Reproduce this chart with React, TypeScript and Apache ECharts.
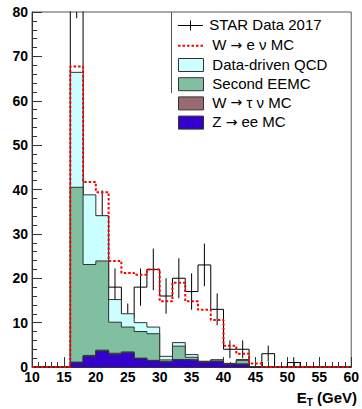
import React, { useEffect, useRef } from 'react';
import * as echarts from 'echarts';

// Left edges of the 2 GeV bins (E_T in GeV), last edge = 60
const binLeft = [10, 12, 14, 16, 18, 20, 22, 24, 26, 28, 30, 32, 34, 36, 38, 40, 42, 44, 46, 48, 50, 52, 54, 56, 58];
const xMax = 60;

// STAR Data 2017 (counts per bin) and their error bars
const starData = [0, 0, 0, 88, 31, 34, 18, 11, 18, 22, 16, 20, 17, 23, 13, 4, 4, 0, 3, 0, 1, 0, 0, 0, 0];
const starErr = [0, 0, 0, 9.4, 5.6, 5.8, 4.2, 3.3, 4.2, 4.7, 4.0, 4.5, 4.1, 4.8, 3.6, 2.0, 2.0, 0, 1.8, 0, 1.2, 0, 0, 0, 0];

// Stacked components (bottom to top)
const zeeMC = [0, 0, 0, 1.0, 2.4, 3.6, 2.9, 3.2, 1.9, 1.4, 1.1, 1.6, 1.5, 1.0, 1.2, 0.6, 0.6, 0, 0, 0, 0, 0, 0, 0, 0];
const wtauMC = [0, 0, 0, 0.1, 0.2, 0.2, 0.2, 0.2, 0.1, 0.1, 0.1, 0.1, 0.1, 0.1, 0.1, 0.1, 0.1, 0, 0, 0, 0, 0, 0, 0, 0];
const secondEEMC = [0, 0, 0, 39.4, 20.5, 20.1, 7.0, 5.6, 6.0, 6.0, 0.4, 3.0, 0.6, 0.1, 0.3, 0.1, 0.8, 0, 0, 0, 0, 0, 0, 0, 0];
const dataDrivenQCD = [0, 0, 0, 25.9, 15.7, 10.2, 5.1, 3.0, 2.0, 1.5, 0.8, 0.8, 0.6, 0.1, 0, 0, 0.2, 0, 0, 0, 0, 0, 0, 0, 0];
const wenuMC = [0, 0, 0, 1.3, 2.9, 5.3, 8.7, 9.2, 10.8, 13.0, 12.4, 13.5, 12.0, 11.6, 9.0, 4.0, 1.3, 0.8, 0, 0, 0, 0, 0, 0, 0];

// Legend labels (rich-text markup: {a|...} = arrow glyph)
const legendLabels = [
  'STAR Data 2017',
  'W {a|\u2192} e \u03bd MC',
  'Data-driven QCD',
  'Second EEMC',
  'W {a|\u2192} \u03c4 \u03bd MC',
  'Z {a|\u2192} ee MC',
];

const FONT = '"Liberation Sans", Arial, Helvetica, sans-serif';
const C_QCD = '#ccffff';
const C_EEMC = '#80bf9f';
const C_TAU = '#9a6b72';
const C_ZEE = '#3300cc';
const C_OUT = '#333333';

const addArr = (a: number[], b: number[]) => a.map((v, i) => +(v + b[i]).toFixed(3));
const edges = binLeft.concat([xMax]);
const toSteps = (vals: number[]) => edges.map((e, i) => [e, vals[Math.min(i, vals.length - 1)]]);

export default function App() {
  const ref = useRef<HTMLDivElement>(null);
  useEffect(() => {
    if (!ref.current) return;
    const chart = echarts.init(ref.current, undefined, { renderer: 'svg' });

    const zTop = zeeMC.slice();
    const tauTop = addArr(zTop, wtauMC);
    const eemcTop = addArr(tauTop, secondEEMC);
    const qcdTop = addArr(eemcTop, dataDrivenQCD);
    const totTop = addArr(qcdTop, wenuMC);

    const errData = binLeft
      .map((e, i) => [e + 1, starData[i], starErr[i]])
      .filter((d) => d[1] > 0);

    const fillSeries = (name: string, vals: number[], color: string, z: number) => ({
      name,
      type: 'line',
      step: 'end',
      data: toSteps(vals),
      symbol: 'none',
      z,
      silent: true,
      lineStyle: { color: C_OUT, width: 1 },
      areaStyle: { color, opacity: 1 },
    });

    const rows = [25.5, 45.8, 65, 84.2, 103.4, 122.6];
    const legendGraphics: any[] = [
      { type: 'line', shape: { x1: 171.5, y1: 12, x2: 171.5, y2: 93 }, style: { stroke: '#555', lineWidth: 1 } },
      { type: 'line', shape: { x1: 178, y1: rows[0], x2: 203, y2: rows[0] }, style: { stroke: '#000', lineWidth: 1 } },
      { type: 'line', shape: { x1: 190.5, y1: rows[0] - 5, x2: 190.5, y2: rows[0] + 5 }, style: { stroke: '#000', lineWidth: 1 } },
      { type: 'line', shape: { x1: 178, y1: rows[1], x2: 203, y2: rows[1] }, style: { stroke: '#ff0000', lineWidth: 2, lineDash: [2.5, 2] } },
    ];
    [C_QCD, C_EEMC, C_TAU, C_ZEE].forEach((c, k) => {
      legendGraphics.push({
        type: 'rect',
        shape: { x: 178.5, y: rows[k + 2] - 6.5, width: 25, height: 13 },
        style: { fill: c, stroke: C_OUT, lineWidth: 1 },
      });
    });
    legendLabels.forEach((t, k) => {
      legendGraphics.push({
        type: 'text',
        x: k === 0 ? 209.3 : 212.3,
        y: rows[k] - 1,
        style: {
          text: t,
          fontSize: 15,
          fontFamily: FONT,
          fill: '#000',
          align: 'left',
          verticalAlign: 'middle',
          rich: {
            a: { fontSize: 14, fontFamily: '"DejaVu Sans", sans-serif', fill: '#000' },
          },
        },
      });
    });
    legendGraphics.push({
      type: 'text',
      x: 357,
      y: 397.5,
      style: {
        text: '{e|E}{t|T}{g| (GeV)}',
        align: 'right',
        verticalAlign: 'middle',
        fill: '#000',
        rich: {
          e: { fontSize: 15, fontWeight: 'bold', fontFamily: FONT, fill: '#000' },
          t: { fontSize: 10, lineHeight: 10, fontWeight: 'bold', fontFamily: FONT, fill: '#000', padding: [10, 0, 0, 0] },
          g: { fontSize: 15, fontWeight: 'bold', fontFamily: FONT, fill: '#000' },
        },
      },
    });

    const axisCommon = {
      axisLine: { show: true, lineStyle: { color: C_OUT, width: 1 } },
      axisTick: { show: true, inside: true, length: 10, lineStyle: { color: C_OUT, width: 1 } },
      minorTick: { show: true, splitNumber: 5, length: 5, lineStyle: { color: C_OUT, width: 1 } },
      splitLine: { show: false },
      minorSplitLine: { show: false },
    };

    chart.setOption({
      animation: false,
      backgroundColor: '#ffffff',
      grid: { left: 32, right: 8, top: 12, bottom: 42, show: true, borderColor: '#555', borderWidth: 1, backgroundColor: 'transparent' },
      xAxis: {
        type: 'value',
        min: 10,
        max: 60,
        interval: 5,
        ...axisCommon,
        axisLabel: { fontSize: 14, lineHeight: 10, fontWeight: 'bold', fontFamily: FONT, color: '#000', margin: 4.5 },
      },
      yAxis: {
        type: 'value',
        min: 0,
        max: 80,
        interval: 10,
        ...axisCommon,
        axisLabel: { fontSize: 14, lineHeight: 9, fontWeight: 'bold', fontFamily: FONT, color: '#000', margin: 4 },
      },
      series: [
        {
          name: 'STAR Data 2017 errors',
          type: 'custom',
          z: 1,
          silent: true,
          clip: true,
          data: errData,
          encode: { x: 0, y: 1 },
          renderItem: (params: any, api: any) => {
            const x = api.value(0);
            const v = api.value(1);
            const e = api.value(2);
            const p1 = api.coord([x, v - e]);
            const p2 = api.coord([x, v + e]);
            return {
              type: 'line',
              shape: { x1: p1[0], y1: p1[1], x2: p2[0], y2: p2[1] },
              style: { stroke: '#000', lineWidth: 1 },
            };
          },
        },
        {
          name: 'STAR Data 2017',
          type: 'line',
          step: 'end',
          data: toSteps(starData),
          symbol: 'none',
          z: 1,
          silent: true,
          lineStyle: { color: '#000', width: 1 },
        },
        fillSeries('Data-driven QCD', qcdTop, C_QCD, 2),
        fillSeries('Second EEMC', eemcTop, C_EEMC, 3),
        fillSeries('W tau nu MC', tauTop, C_TAU, 4),
        fillSeries('Z ee MC', zTop, C_ZEE, 5),
        {
          name: 'W e nu MC',
          type: 'line',
          step: 'end',
          data: toSteps(totTop),
          symbol: 'none',
          z: 6,
          silent: true,
          lineStyle: { color: '#ff0000', width: 2, type: [2.5, 2] },
        },
      ],
      graphic: legendGraphics,
    });
    return () => chart.dispose();
  }, []);
  return <div ref={ref} style={{ position: 'absolute', left: 0, top: 0, width: 362, height: 409 }} />;
}
